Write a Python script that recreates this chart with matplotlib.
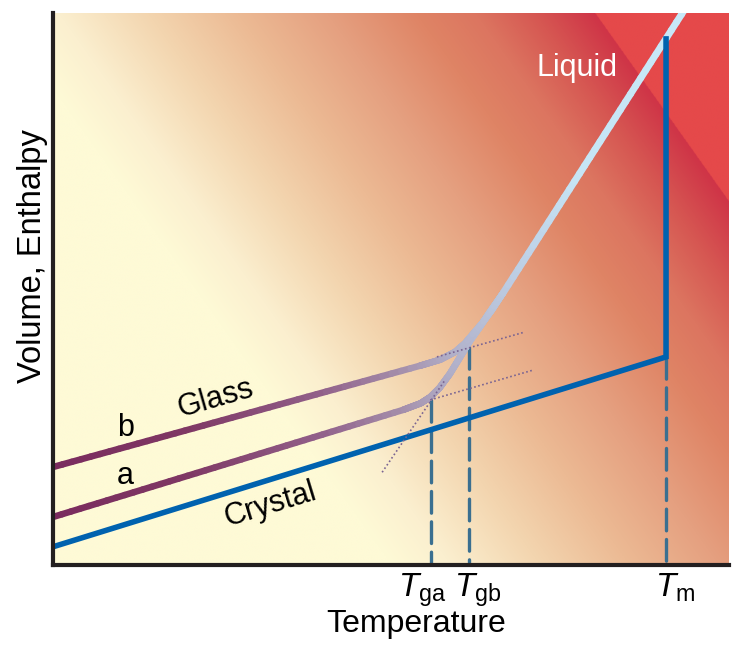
import numpy as np
import matplotlib
matplotlib.use('Agg')
import matplotlib.pyplot as plt
from matplotlib.collections import LineCollection
from matplotlib.colors import LinearSegmentedColormap
from matplotlib.transforms import ScaledTranslation

plt.rcParams['font.family'] = ['Liberation Sans', 'DejaVu Sans']
plt.rcParams['mathtext.fontset'] = 'custom'
plt.rcParams['mathtext.rm'] = 'Liberation Sans'
plt.rcParams['mathtext.it'] = 'Liberation Sans:italic'

# characteristic temperatures (schematic units, axes run 0-100)
t_ga = 55.9
t_gb = 61.5
t_m = 90.7
tick_pos = [t_ga, t_gb, t_m]
tick_labels = [r'$T_{\mathrm{ga}}$', r'$T_{\mathrm{gb}}$', r'$T_{\mathrm{m}}$']

# crystal branch + melting step
crystal_T = [0, t_m, t_m]
crystal_V = [3.3, 37.7, 95.3]

# glass a / glass b
glass_a_T = [0, 51.8, 54.4, 55.8, 57.2, 58.7, 60.2, 61.7, 63.2, 64.6, 66.6]
glass_a_V = [8.7, 28.1, 29.3, 30.4, 32.1, 34.6, 37.6, 40.6, 43.2, 45.8, 49.3]
glass_b_T = [0, 54.3, 57.3, 59.5, 61.0, 62.1, 63.5, 65.0, 66.6]
glass_b_V = [17.75, 36.1, 37.2, 38.6, 40.2, 41.8, 43.8, 46.3, 49.3]

# liquid
liquid_T = [66.6, 96.0]
liquid_V = [49.3, 105.5]

# dotted extrapolations
extrap_liq_T = [48.7, 58.0]
extrap_liq_V = [16.8, 33.5]
extrap_a_T = [55.8, 71.0]
extrap_a_V = [29.9, 35.3]
extrap_b_T = [56.8, 69.8]
extrap_b_V = [37.7, 42.2]

# tops of the dashed drop lines
drop_V = [29.9, 39.5, 37.7]

fig = plt.figure(figsize=(7.4, 6.49), dpi=100)
ax = fig.add_axes([0.0716, 0.1294, 0.9134, 0.8506])
ax.set_xlim(0, 100)
ax.set_ylim(0, 100)

# background gradient (pale yellow -> salmon -> crimson, solid red corner)
bg = LinearSegmentedColormap.from_list('bg', [
    (0.0, '#FEFAD6'), (0.1, '#FBEFCF'), (0.25, '#F3D5AF'), (0.4, '#ECBA94'),
    (0.55, '#E5A080'), (0.7, '#DF8465'), (0.8, '#DC7560'), (0.9, '#D65752'),
    (1.0, '#CF3447')])
bg.set_under('#FEFAD6')
bg.set_over('#E5494A')
gx, gy = np.meshgrid(np.linspace(0, 100, 900), np.linspace(0, 100, 900))
s = (6.76 * gx + 3.93 * gy - 337) / 598
ax.imshow(s, cmap=bg, vmin=0, vmax=1, origin='lower', extent=[0, 100, 0, 100],
          aspect='auto', interpolation='bilinear', zorder=0)

# colour ramp for glass / liquid lines
line_cmap = LinearSegmentedColormap.from_list('gl', [
    (0.0, '#7A2B5E'), (0.2, '#7F3864'), (0.4, '#91608A'), (0.52, '#A58FAB'),
    (0.6, '#B2B2CB'), (0.68, '#BCCCE2'), (0.78, '#C6E5F5'), (1.0, '#C8E9F8')])


def ramp_line(T, V, lw):
    T = np.asarray(T, float)
    V = np.asarray(V, float)
    xs, ys = [], []
    for i in range(len(T) - 1):
        xs.append(np.linspace(T[i], T[i + 1], 40)[:-1])
        ys.append(np.linspace(V[i], V[i + 1], 40)[:-1])
    xs = np.concatenate(xs + [T[-1:]])
    ys = np.concatenate(ys + [V[-1:]])
    pts = np.column_stack([xs, ys]).reshape(-1, 1, 2)
    segs = np.concatenate([pts[:-1], pts[1:]], axis=1)
    mid = (xs[:-1] + xs[1:]) / 2
    lc = LineCollection(segs, colors=line_cmap(mid / 100), linewidths=lw,
                        capstyle='round', zorder=3)
    ax.add_collection(lc)


# dashed drop lines
for tx, top in zip(tick_pos, drop_V):
    ax.plot([tx, tx], [top, 0], color='#3A6F90', lw=2.4,
            dashes=(6.5, 2.6), dash_capstyle='round', zorder=2)

ax.plot(crystal_T, crystal_V, color='#0062AF', lw=4.0, solid_joinstyle='miter', zorder=4)
ramp_line(glass_a_T, glass_a_V, 4.7)
ramp_line(glass_b_T, glass_b_V, 4.7)
ramp_line(liquid_T, liquid_V, 5.0)

for tt, vv in [(extrap_liq_T, extrap_liq_V), (extrap_a_T, extrap_a_V), (extrap_b_T, extrap_b_V)]:
    ax.plot(tt, vv, color='#7A6492', lw=1.2, ls=(0, (1, 1.5)), zorder=5)

# labels on the diagram
ax.text(77.5, 90, 'Liquid', color='white', fontsize=22, ha='center', va='center', zorder=6)
ax.text(24, 30.2, 'Glass', fontsize=22, ha='center', va='center', rotation=16, zorder=6)
ax.text(10.7, 24.8, 'b', fontsize=22, ha='center', va='center', zorder=6)
ax.text(10.7, 16.1, 'a', fontsize=22, ha='center', va='center', zorder=6)
ax.text(32.1, 10.9, 'Crystal', fontsize=22, ha='center', va='center', rotation=17, zorder=6)

# axes styling
for side in ['top', 'right']:
    ax.spines[side].set_visible(False)
for side in ['left', 'bottom']:
    ax.spines[side].set_linewidth(3)
    ax.spines[side].set_color('#231F20')
    ax.spines[side].set_zorder(7)
ax.set_yticks([])
ax.set_xticks(tick_pos, tick_labels, fontsize=24)
ax.tick_params(axis='x', length=0, pad=5)
for lab, dx in zip(ax.get_xticklabels(), [-9, 9, 9]):
    lab.set_transform(lab.get_transform() + ScaledTranslation(dx / 100, 0, fig.dpi_scale_trans))

ax.set_xlabel('Temperature', fontsize=23)
ax.xaxis.set_label_coords(0.537, -0.08)
ax.set_ylabel('Volume, Enthalpy', fontsize=23.5)
ax.yaxis.set_label_coords(-0.008, 0.56)

fig.savefig('out.png', dpi=100)
